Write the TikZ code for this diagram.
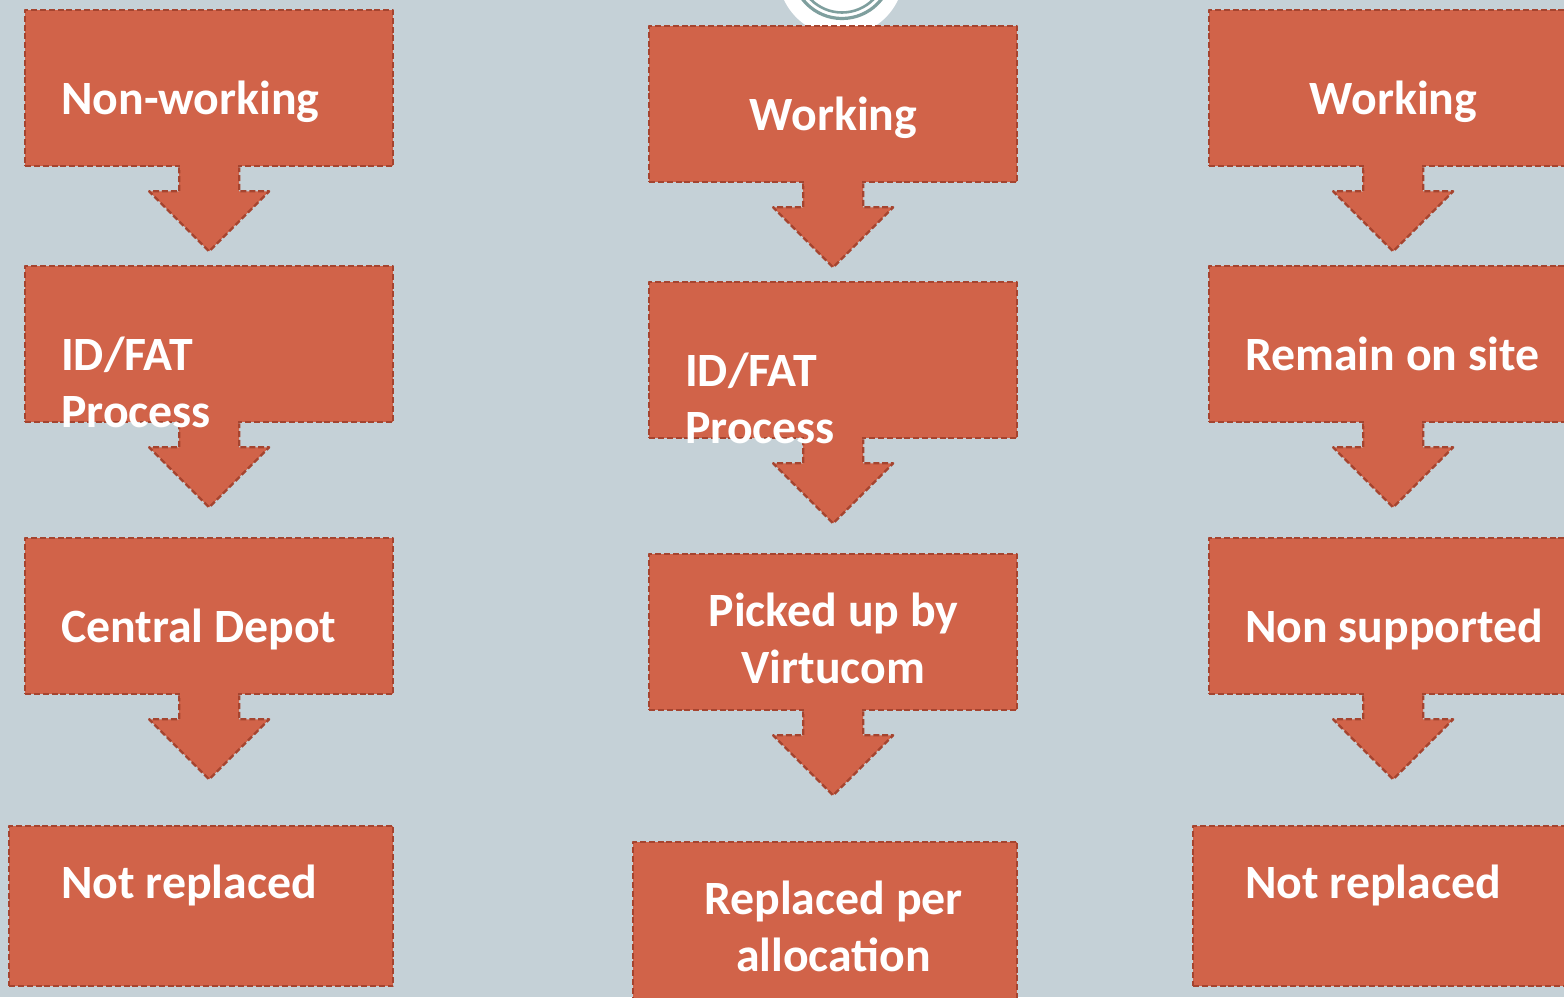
\documentclass[tikz,border=0pt]{standalone}
\usepackage{fontspec}
\setmainfont{Carlito}
\tikzset{
  x=1pt,y=-1pt,
  dashline/.style={draw=boxedge,line width=2.3pt,line join=round,dash pattern=on 6pt off 2.8pt},
  flowbox/.style={rectangle,fill=boxfill,dashline,inner sep=0pt,minimum width=368pt,minimum height=156pt,anchor=north west},
  widebox/.style={flowbox,minimum width=384pt,minimum height=160pt},
  lab/.style={text=white,font=\fontsize{47.8}{47.8}\selectfont\bfseries,inner sep=0pt,anchor=base west},
  clab/.style={lab,anchor=base},
  downarrow/.pic={
    \path[fill=boxfill,dashline] (-30,0) -- (-30,24) -- (-60,24) -- (0,84) -- (60,24) -- (30,24) -- (30,0);
    \fill[boxfill] (-28.8,-2) rectangle (28.8,3);
  }
}
\definecolor{bg}{HTML}{C5D1D7}
\definecolor{boxfill}{HTML}{D16349}
\definecolor{boxedge}{HTML}{A5442F}
\definecolor{ring}{HTML}{7F9F9E}
\begin{document}
\begin{tikzpicture}
\useasboundingbox (0,0) rectangle (1564,997);
\clip (0,0) rectangle (1564,997);
\fill[bg] (0,0) rectangle (1564,997);
\begin{scope}[shift={(-1,-1)}]
% emblem
\fill[white] (842,-26) circle (63);
\draw[ring,line width=3.2pt] (843,-30.5) circle (50);
\draw[ring,line width=2.6pt] (843,-30.5) circle (44);
% column 1
\node[flowbox] (a1) at (25,10) {};
\node[flowbox] (a2) at (25,266) {};
\node[flowbox] (a3) at (25,538) {};
\node[widebox] (a4) at (9,826) {};
\pic (aa1) at (a1.south) {downarrow};
\pic (aa2) at (a2.south) {downarrow};
\pic (aa3) at (a3.south) {downarrow};
\node[lab] (ta1) at (62,115) {Non-working};
\node[lab] (ta2a) at (62,371) {ID/FAT};
\node[lab] (ta2b) at (62,428) {Process};
\node[lab] (ta3) at (62,643) {Central Depot};
\node[lab] (ta4) at (62,899) {Not replaced};
% column 2
\node[flowbox] (b1) at (649,26) {};
\node[flowbox] (b2) at (649,282) {};
\node[flowbox] (b3) at (649,554) {};
\node[widebox] (b4) at (633,842) {};
\pic (ba1) at (b1.south) {downarrow};
\pic (ba2) at (b2.south) {downarrow};
\pic (ba3) at (b3.south) {downarrow};
\node[clab] (tb1) at (834.5,131) {Working};
\node[lab] (tb2a) at (686,387) {ID/FAT};
\node[lab] (tb2b) at (686,444) {Process};
\node[clab] (tb3a) at (834.5,627) {Picked up by};
\node[clab] (tb3b) at (834.5,684) {Virtucom};
\node[clab] (tb4a) at (834.5,915) {Replaced per};
\node[clab] (tb4b) at (834.5,972) {allocation};
% column 3
\node[flowbox] (c1) at (1209,10) {};
\node[flowbox] (c2) at (1209,266) {};
\node[flowbox] (c3) at (1209,538) {};
\node[widebox] (c4) at (1193,826) {};
\pic (ca1) at (c1.south) {downarrow};
\pic (ca2) at (c2.south) {downarrow};
\pic (ca3) at (c3.south) {downarrow};
\node[clab] (tc1) at (1394.5,115) {Working};
\node[lab] (tc2) at (1246,371) {Remain on site};
\node[lab] (tc3) at (1246,643) {Non supported};
\node[lab] (tc4) at (1246,899) {Not replaced};
\end{scope}
\end{tikzpicture}
\end{document}
